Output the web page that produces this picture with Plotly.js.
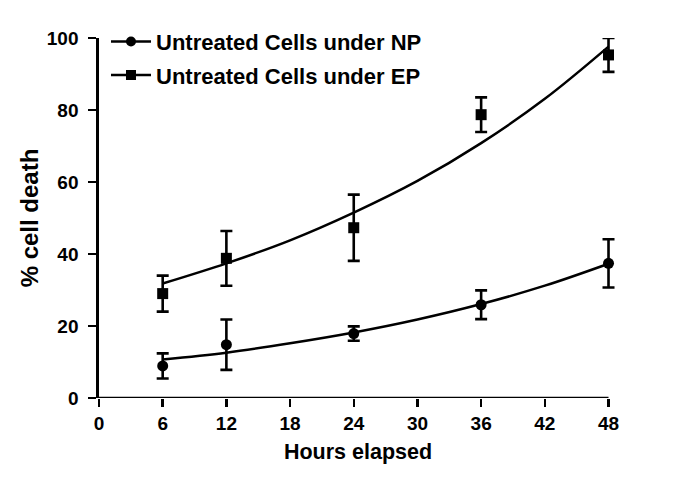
<!DOCTYPE html>
<html>
<head>
<meta charset="utf-8">
<script src="https://cdn.plot.ly/plotly-3.0.1.min.js"></script>
<style>
  html, body { margin: 0; padding: 0; background: #fff; }
  #chart { width: 680px; height: 493px; }
</style>
</head>
<body>
<div id="chart"></div>
<script>
// Measured points (hours elapsed, % cell death, error)
const hours = [6, 12, 24, 36, 48];
const npMean = [8.9, 14.8, 17.9, 25.9, 37.4];
const npErr = [3.5, 7.0, 2.0, 4.0, 6.7];
const epMean = [29.0, 38.8, 47.3, 78.7, 95.3];
const epErr = [5.0, 7.6, 9.2, 4.8, 4.7];

// Fitted curves
const fitHours = [6, 12, 18, 24, 30, 36, 42, 48];
const npFit = [10.7, 12.6, 15.2, 18.2, 21.8, 26.1, 31.2, 37.3];
const epFit = [31.8, 37.4, 43.8, 51.5, 60.3, 70.8, 83.1, 97.6];

const xTicks = [0, 6, 12, 18, 24, 30, 36, 42, 48];
const yTicks = [0, 20, 40, 60, 80, 100];

const legendNames = ["Untreated Cells under NP", "Untreated Cells under EP"];

const FONT = "Liberation Sans, Arial, Helvetica, sans-serif";
const BLACK = "#000000";

const traces = [
  // legend-only entries (line + marker)
  {
    x: [null], y: [null], type: "scatter", mode: "lines+markers",
    name: legendNames[0], legendgroup: "np",
    line: { color: BLACK, width: 2.5 },
    marker: { symbol: "circle", size: 10, color: BLACK }
  },
  {
    x: [null], y: [null], type: "scatter", mode: "lines+markers",
    name: legendNames[1], legendgroup: "ep",
    line: { color: BLACK, width: 2.5 },
    marker: { symbol: "square", size: 10, color: BLACK }
  },
  // fitted curves
  {
    x: fitHours, y: npFit, type: "scatter", mode: "lines",
    line: { color: BLACK, width: 2.5, shape: "spline" },
    showlegend: false, hoverinfo: "skip", cliponaxis: false
  },
  {
    x: fitHours, y: epFit, type: "scatter", mode: "lines",
    line: { color: BLACK, width: 2.5, shape: "spline" },
    showlegend: false, hoverinfo: "skip", cliponaxis: false
  },
  // data points with error bars
  {
    x: hours, y: npMean, type: "scatter", mode: "markers",
    marker: { symbol: "circle", size: 11, color: BLACK },
    error_y: { type: "data", array: npErr, visible: true, color: BLACK, thickness: 2.6, width: 6 },
    showlegend: false, cliponaxis: false
  },
  {
    x: hours, y: epMean, type: "scatter", mode: "markers",
    marker: { symbol: "square", size: 11, color: BLACK },
    error_y: { type: "data", array: epErr, visible: true, color: BLACK, thickness: 2.6, width: 6 },
    showlegend: false, cliponaxis: false
  }
];

const xEnd = xTicks[xTicks.length - 1];

const layout = {
  width: 680, height: 493,
  paper_bgcolor: "#ffffff", plot_bgcolor: "#ffffff",
  margin: { l: 99, r: 62.5, t: 37.7, b: 94.7, pad: 0 },
  font: { family: FONT, color: BLACK, weight: "bold" },
  showlegend: true,
  legend: {
    x: 0.0135, y: 1.048, xanchor: "left", yanchor: "top",
    bgcolor: "rgba(0,0,0,0)", borderwidth: 0,
    font: { family: FONT, size: 22, color: BLACK, weight: "bold" },
    traceorder: "grouped", tracegroupgap: 2, itemwidth: 40
  },
  xaxis: {
    range: [0, 48.8], tickvals: xTicks, ticktext: xTicks.map(String),
    showgrid: false, zeroline: false,
    showline: false,
    ticks: "outside", ticklen: 8, tickwidth: 2.5, tickcolor: BLACK,
    tickfont: { family: FONT, size: 19, color: BLACK, weight: "bold" },
    title: { text: "Hours elapsed", font: { family: FONT, size: 21.5, color: BLACK, weight: "bold" }, standoff: 11 },
    fixedrange: true
  },
  yaxis: {
    range: [0, 100], tickvals: yTicks, ticktext: yTicks.map(String),
    showgrid: false, zeroline: false,
    showline: true, linecolor: BLACK, linewidth: 2.7,
    ticks: "outside", ticklen: 8, tickwidth: 2.5, tickcolor: BLACK,
    ticklabelstandoff: 6,
    tickfont: { family: FONT, size: 19, color: BLACK, weight: "bold" },
    title: { text: "% cell death", font: { family: FONT, size: 24, color: BLACK, weight: "bold" }, standoff: 2 },
    fixedrange: true
  },
  shapes: [
    // x axis line, running from the first to the last tick only
    {
      type: "line", xref: "x", yref: "y",
      x0: xTicks[0], x1: xEnd, y0: yTicks[0], y1: yTicks[0],
      line: { color: BLACK, width: 2.7 }, layer: "above"
    }
  ]
};

Plotly.newPlot("chart", traces, layout, { displayModeBar: false, staticPlot: true });
</script>
</body>
</html>
